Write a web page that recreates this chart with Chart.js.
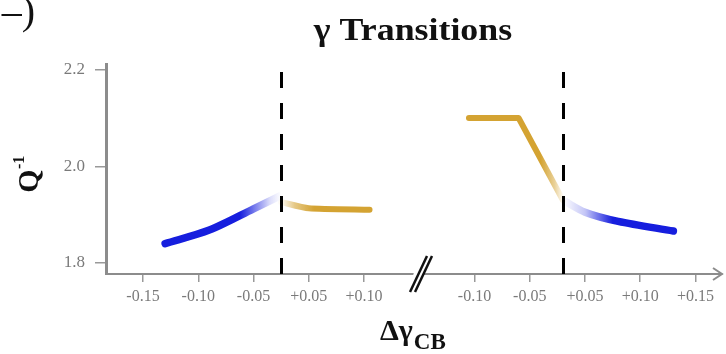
<!DOCTYPE html>
<html>
<head>
<meta charset="utf-8">
<script src="https://cdn.jsdelivr.net/npm/chart.js@4/dist/chart.umd.min.js"></script>
<style>
  html, body { margin: 0; padding: 0; background: #fff; }
  #wrap { width: 726px; height: 354px; position: relative; }
</style>
</head>
<body>
<div id="wrap"><canvas id="chart"></canvas></div>
<script>
// Tick labels of the two halves of the broken Δγ_CB axis
const leftTickValues = [-0.15, -0.10, -0.05, 0.05, 0.10];
const leftTickLabels = ['-0.15', '-0.10', '-0.05', '+0.05', '+0.10'];
const rightTickValues = [-0.10, -0.05, 0.05, 0.10, 0.15];
const rightTickLabels = ['-0.10', '-0.05', '+0.05', '+0.10', '+0.15'];
const yTickValues = [1.8, 2.0, 2.2];

// Left transition: Q^-1 below (blue) and above (gold) the transition point
const leftBelowDg = [-0.13, -0.09, -0.05, 0];
const leftBelowQ = [1.84, 1.868, 1.912, 1.94];
const leftAboveDg = [0, 0.05, 0.105];
const leftAboveQ = [1.926, 1.913, 1.91];

// Right transition: gold before, blue after
const rightBelowDg = [-0.105, -0.06, 0];
const rightBelowQ = [2.10, 2.10, 1.93];
const rightAboveDg = [0, 0.05, 0.08, 0.13];
const rightAboveQ = [1.93, 1.905, 1.886, 1.866];

// Each half of the axis places Δγ on evenly spaced slots; zero sits between ±0.05
const LEFT_AXIS = { dg: [-0.15, -0.10, -0.05, 0, 0.05, 0.10], slot: [0, 1, 2, 2.5, 3, 4] };
const RIGHT_AXIS = { dg: [-0.10, -0.05, 0, 0.05, 0.10, 0.15], slot: [6, 7, 7.6, 8, 9, 10] };

function toSlot(axis, d) {
  const a = axis.dg, s = axis.slot;
  let i = 0;
  if (d <= a[0]) i = 0;
  else if (d >= a[a.length - 1]) i = a.length - 2;
  else { while (i < a.length - 2 && d > a[i + 1]) i++; }
  return s[i] + (d - a[i]) * (s[i + 1] - s[i]) / (a[i + 1] - a[i]);
}

function points(axis, dg, q) {
  return dg.map((d, i) => ({ x: toSlot(axis, d), y: q[i] }));
}

const BLUE = '22,30,222';
const GOLD = '212,163,50';

// Horizontal fade of a trace toward the transition line
function fade(rgb, stops) {
  return (c) => {
    const chart = c.chart;
    const area = chart.chartArea;
    if (!area) return 'rgb(' + rgb + ')';
    const xs = chart.scales.x;
    const x0 = xs.getPixelForValue(stops[0][0]);
    const x1 = xs.getPixelForValue(stops[stops.length - 1][0]);
    const g = chart.ctx.createLinearGradient(x0, 0, x1, 0);
    stops.forEach(([s, a]) => {
      g.addColorStop((xs.getPixelForValue(s) - x0) / (x1 - x0), 'rgba(' + rgb + ',' + a + ')');
    });
    return g;
  };
}

const tickSlots = leftTickValues.map(v => toSlot(LEFT_AXIS, v))
  .concat(rightTickValues.map(v => toSlot(RIGHT_AXIS, v)));
const tickTexts = leftTickLabels.concat(rightTickLabels);

const SERIF = '"Liberation Serif", "DejaVu Serif", serif';

const decor = {
  id: 'decor',
  afterDatasetsDraw(chart) {
    const { ctx, chartArea, scales } = chart;
    const xs = scales.x;
    ctx.save();
    // dashed transition lines
    ctx.strokeStyle = '#000';
    ctx.lineWidth = 3;
    ctx.setLineDash([16, 15]);
    [toSlot(LEFT_AXIS, 0), toSlot(RIGHT_AXIS, 0)].forEach(s => {
      const x = Math.round(xs.getPixelForValue(s)) + 0.5;
      ctx.beginPath();
      ctx.moveTo(x, chartArea.bottom);
      ctx.lineTo(x, chartArea.top);
      ctx.stroke();
    });
    ctx.restore();
  },
  afterDraw(chart) {
    const { ctx, chartArea } = chart;
    ctx.save();
    // arrow head at the end of the Δγ axis
    const yb = chartArea.bottom;
    ctx.strokeStyle = '#8c8c8c';
    ctx.lineWidth = 2;
    ctx.beginPath();
    ctx.moveTo(chartArea.right - 9, yb - 6);
    ctx.lineTo(chartArea.right, yb);
    ctx.lineTo(chartArea.right - 9, yb + 6);
    ctx.stroke();

    // axis break mark
    const bx = 418;
    ctx.fillStyle = '#fff';
    ctx.beginPath();
    ctx.moveTo(bx - 9, yb + 18);
    ctx.lineTo(bx + 1, yb + 18);
    ctx.lineTo(bx + 10, yb - 18);
    ctx.lineTo(bx, yb - 18);
    ctx.closePath();
    ctx.fill();
    ctx.strokeStyle = '#111';
    ctx.lineWidth = 2.5;
    [-8, -3].forEach(a => {
      ctx.beginPath();
      ctx.moveTo(bx + a, yb + 18);
      ctx.lineTo(bx + a + 17, yb - 18);
      ctx.stroke();
    });

    // title
    ctx.fillStyle = '#111';
    ctx.textBaseline = 'alphabetic';
    ctx.textAlign = 'center';
    ctx.save();
    ctx.translate(413, 40);
    ctx.scale(1.12, 1);
    ctx.font = 'bold 32px ' + SERIF;
    ctx.fillText('γ Transitions', 0, 0);
    ctx.restore();

    // panel letter, cut by the left edge
    ctx.textAlign = 'right';
    ctx.font = '40px ' + SERIF;
    ctx.fillText('–)', 35, 24);

    // y axis title
    ctx.save();
    ctx.translate(38, 177);
    ctx.rotate(-Math.PI / 2);
    ctx.textAlign = 'center';
    ctx.font = 'bold 30px ' + SERIF;
    ctx.fillText('Q', -4, 0);
    ctx.font = 'bold 16px ' + SERIF;
    ctx.textAlign = 'left';
    ctx.fillText('-1', 8, -14);
    ctx.restore();

    // x axis title
    ctx.textAlign = 'left';
    ctx.font = 'bold 30px ' + SERIF;
    ctx.fillText('Δγ', 380, 340);
    const w = ctx.measureText('Δγ').width;
    ctx.font = 'bold 23px ' + SERIF;
    ctx.fillText('CB', 380 + w + 1, 349);
    ctx.restore();
  }
};

const lineBase = {
  pointRadius: 0,
  borderCapStyle: 'round',
  borderJoinStyle: 'round',
  fill: false
};

new Chart(document.getElementById('chart'), {
  type: 'line',
  data: {
    datasets: [
      Object.assign({}, lineBase, {
        label: 'left below',
        data: points(LEFT_AXIS, leftBelowDg, leftBelowQ),
        borderWidth: 7.5,
        tension: 0.3,
        borderColor: fade(BLUE, [[1.75, 1], [2.3, 0.15], [2.5, 0]])
      }),
      Object.assign({}, lineBase, {
        label: 'left above',
        data: points(LEFT_AXIS, leftAboveDg, leftAboveQ),
        borderWidth: 6,
        tension: 0.2,
        borderColor: fade(GOLD, [[2.5, 0.05], [2.75, 0.6], [3.1, 1]])
      }),
      Object.assign({}, lineBase, {
        label: 'right below',
        data: points(RIGHT_AXIS, rightBelowDg, rightBelowQ),
        borderWidth: 6,
        tension: 0,
        borderColor: fade(GOLD, [[7.2, 1], [7.45, 0.5], [7.6, 0.05]])
      }),
      Object.assign({}, lineBase, {
        label: 'right above',
        data: points(RIGHT_AXIS, rightAboveDg, rightAboveQ),
        borderWidth: 7.5,
        tension: 0.3,
        borderColor: fade(BLUE, [[7.6, 0], [8.0, 0.25], [8.5, 1]])
      })
    ]
  },
  options: {
    responsive: true,
    maintainAspectRatio: false,
    animation: false,
    events: [],
    layout: { padding: { top: 64, right: 4, bottom: 0, left: 0 } },
    plugins: { legend: { display: false }, tooltip: { enabled: false }, title: { display: false } },
    scales: {
      x: {
        type: 'linear',
        min: -0.67,
        max: 10.48,
        afterBuildTicks: s => { s.ticks = tickSlots.map(v => ({ value: v })); },
        afterFit: s => { s.height = 80; },
        ticks: {
          autoSkip: false,
          maxRotation: 0,
          padding: 5,
          color: '#7a7a7a',
          font: { family: SERIF, size: 16 },
          callback: (v, i) => tickTexts[i]
        },
        grid: { drawOnChartArea: false, drawTicks: true, tickLength: 8, color: '#999', lineWidth: 1.5 },
        border: { display: true, color: '#8c8c8c', width: 2 }
      },
      y: {
        min: 1.777,
        max: 2.212,
        afterBuildTicks: s => { s.ticks = yTickValues.map(v => ({ value: v })); },
        afterFit: s => { s.width = 106; },
        ticks: {
          padding: 10,
          color: '#7a7a7a',
          font: { family: SERIF, size: 17 },
          callback: v => v.toFixed(1)
        },
        grid: { drawOnChartArea: false, drawTicks: true, tickLength: 11, color: '#999', lineWidth: 1.5 },
        border: { display: true, color: '#8c8c8c', width: 3 }
      }
    }
  },
  plugins: [decor]
});
</script>
</body>
</html>
